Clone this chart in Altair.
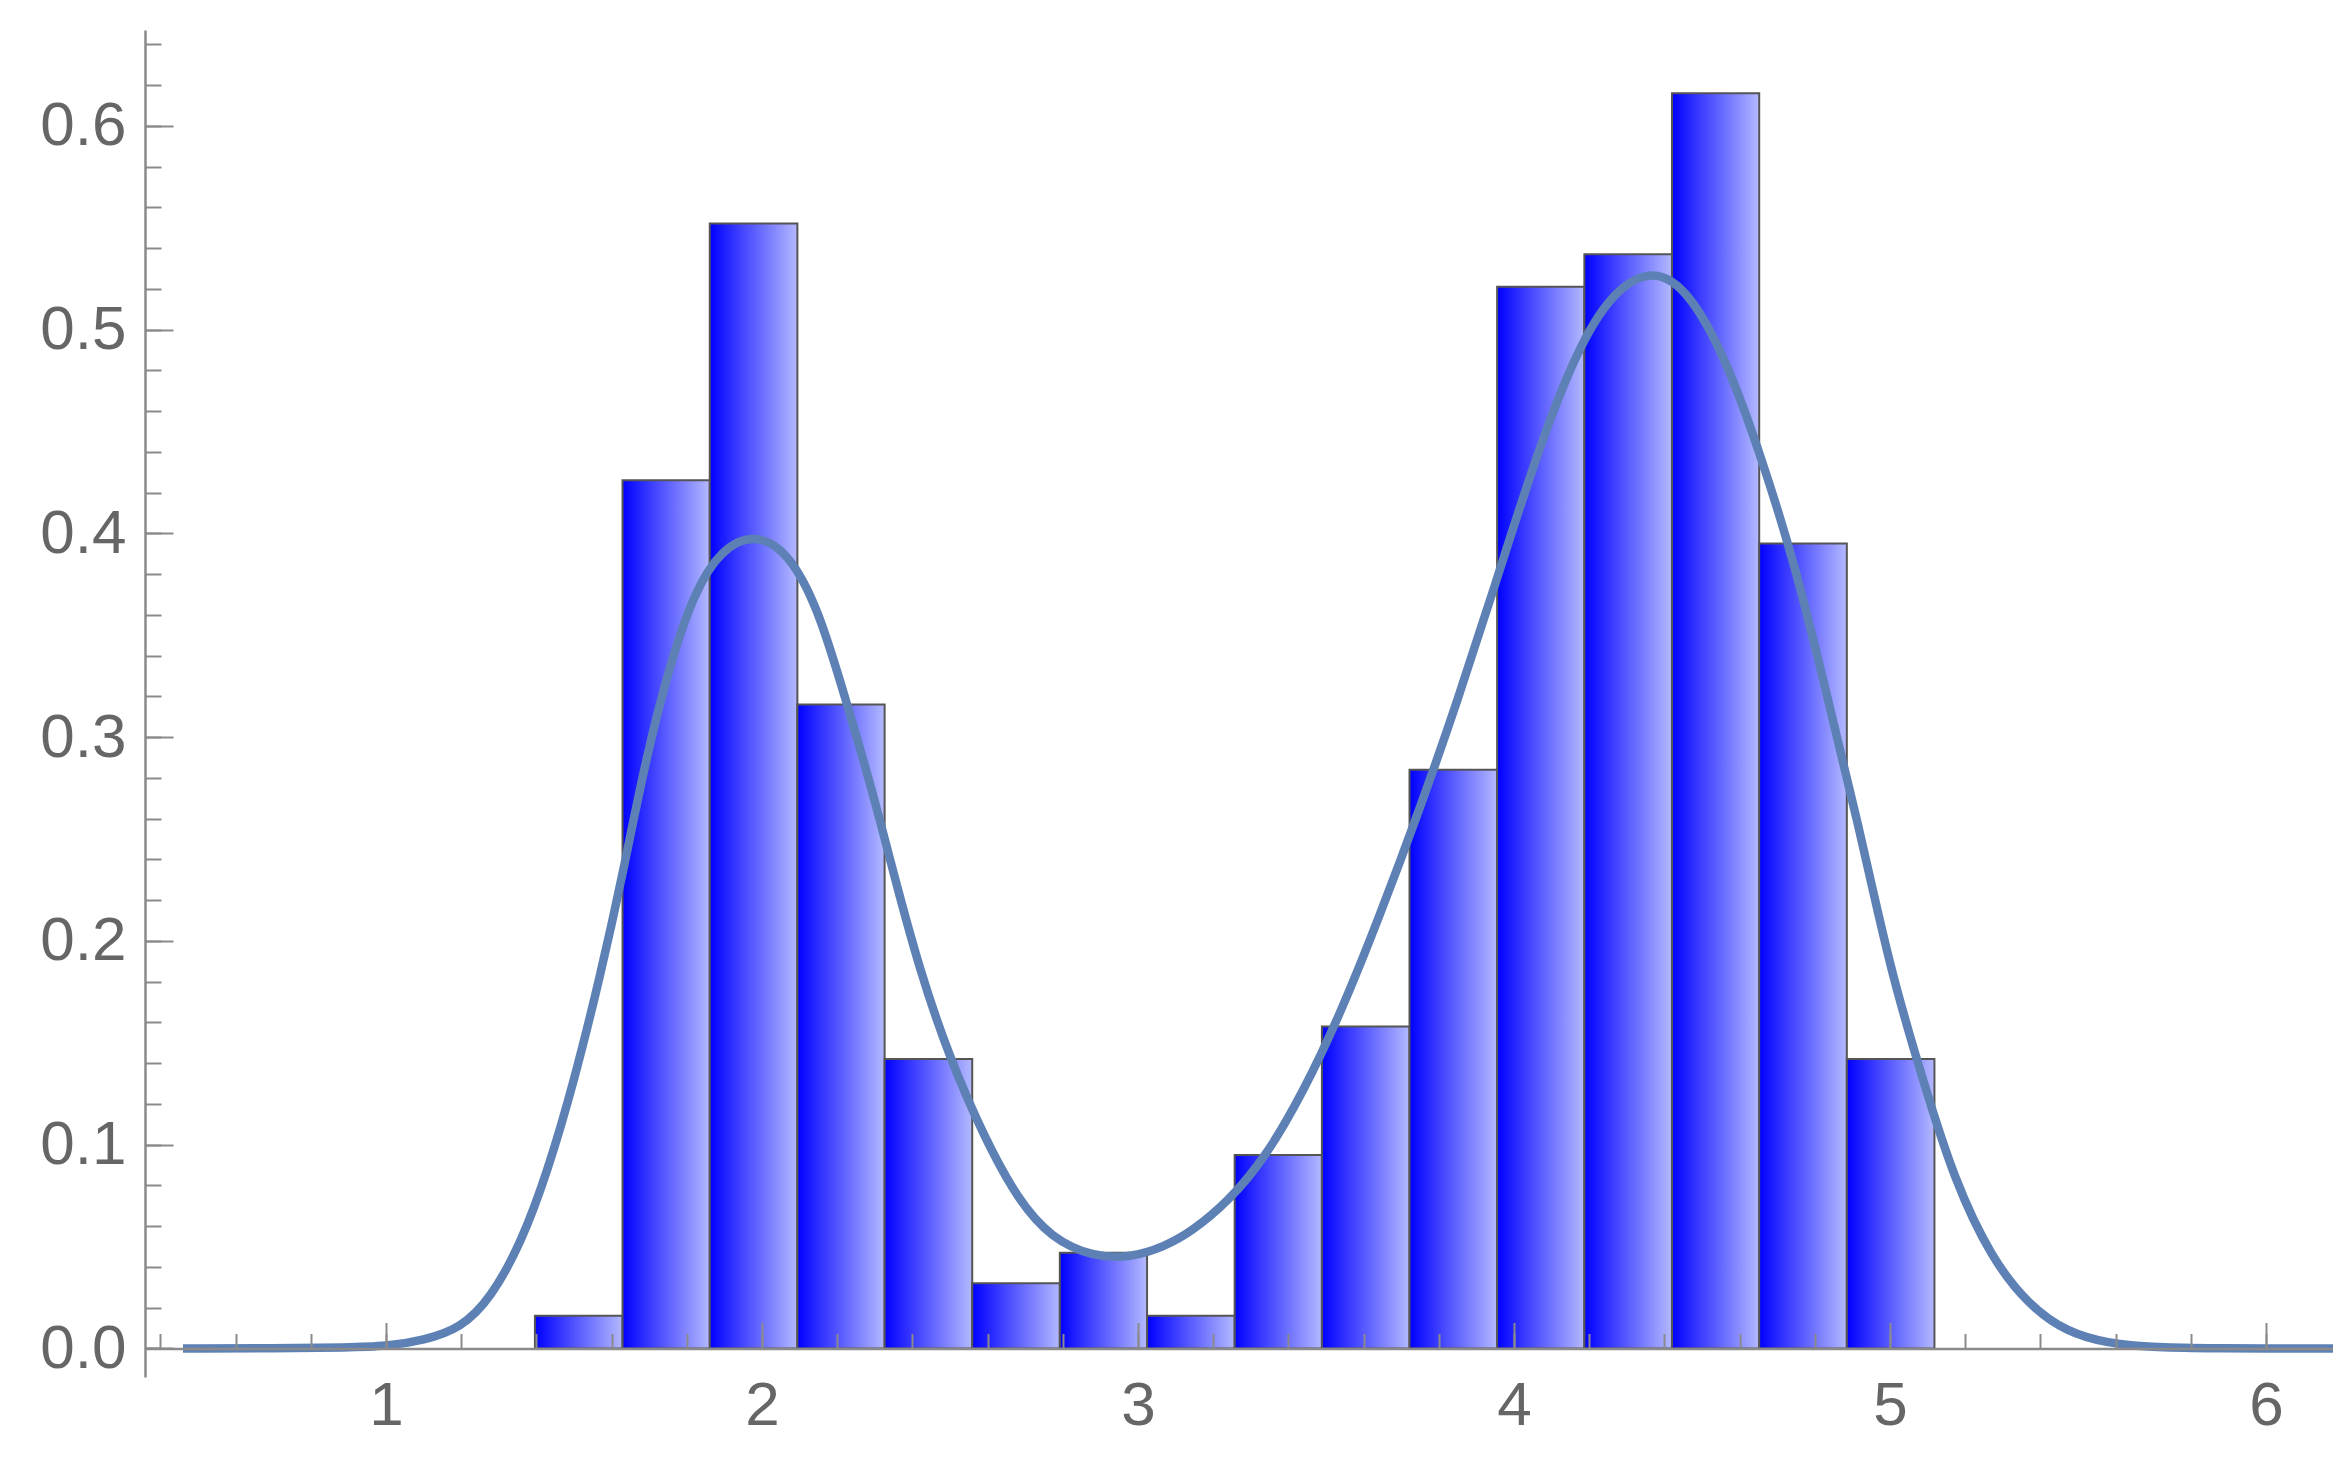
import altair as alt
import pandas as pd

# ---- data ----
bin_left = [1.396, 1.629, 1.861, 2.094, 2.326, 2.559, 2.792, 3.024,
            3.257, 3.489, 3.722, 3.955, 4.187, 4.420, 4.652, 4.885]
bin_right = [1.629, 1.861, 2.094, 2.326, 2.559, 2.792, 3.024, 3.257,
             3.489, 3.722, 3.955, 4.187, 4.420, 4.652, 4.885, 5.118]
density = [0.016, 0.426, 0.552, 0.316, 0.142, 0.032, 0.047, 0.016,
           0.095, 0.158, 0.284, 0.521, 0.537, 0.616, 0.395, 0.142]

curve_x = [0.46, 0.70, 0.90, 1.00, 1.10, 1.20, 1.28, 1.36, 1.43, 1.50,
           1.57, 1.63, 1.69, 1.76, 1.82, 1.89, 1.98, 2.07, 2.15, 2.22,
           2.29, 2.35, 2.42, 2.50, 2.59, 2.68, 2.77, 2.88, 2.98, 3.07,
           3.14, 3.24, 3.34, 3.44, 3.54, 3.64, 3.75, 3.85, 3.95, 4.05,
           4.15, 4.25, 4.37, 4.47, 4.57, 4.66, 4.75, 4.83, 4.92, 5.00,
           5.09, 5.17, 5.27, 5.37, 5.47, 5.58, 5.69, 5.85, 6.00, 6.178]
curve_y = [0.0, 0.0, 0.0005, 0.001, 0.004, 0.010, 0.025, 0.052, 0.087, 0.131,
           0.183, 0.233, 0.289, 0.339, 0.371, 0.392, 0.400, 0.391, 0.363, 0.320,
           0.276, 0.233, 0.185, 0.142, 0.104, 0.073, 0.054, 0.045, 0.0445, 0.050,
           0.057, 0.072, 0.094, 0.126, 0.165, 0.211, 0.265, 0.318, 0.375, 0.433,
           0.483, 0.517, 0.531, 0.518, 0.483, 0.436, 0.383, 0.322, 0.254, 0.186,
           0.130, 0.083, 0.044, 0.021, 0.008, 0.0025, 0.0006, 0.0001, 0.0, 0.0]

x_major = [1, 2, 3, 4, 5, 6]
x_minor = [round(0.4 + 0.2 * i, 1) for i in range(29)]
y_major = [0.0, 0.1, 0.2, 0.3, 0.4, 0.5, 0.6]
y_minor = [round(0.02 * i, 2) for i in range(33)]

x_domain = [0.359, 6.178]
y_domain = [-0.014, 0.647]

# ---- layout ----
W, H = 2188, 1347
x_axis_offset = -H * (0 - y_domain[0]) / (y_domain[1] - y_domain[0])

bins = pd.DataFrame({"x0": bin_left, "x1": bin_right, "h": density,
                     "base": [0.0] * len(density)})
curve = pd.DataFrame({"cx": curve_x, "cy": curve_y})

AX = "#8a8a8a"
LBL = "#666666"
FONT = "Liberation Sans"

xs = alt.Scale(domain=x_domain, nice=False, zero=False)
ys = alt.Scale(domain=y_domain, nice=False, zero=False)

labels_x = alt.Axis(values=x_major, orient="bottom", offset=x_axis_offset,
                    ticks=False, domain=True, domainColor=AX, domainWidth=2.5,
                    grid=False, title=None, format="d", labelFont=FONT,
                    labelFontSize=62, labelColor=LBL, labelPadding=27,
                    labelFlush=False, zindex=1)
labels_y = alt.Axis(values=y_major, orient="left", ticks=False, domain=True,
                    domainColor=AX, domainWidth=2.5, grid=False, title=None,
                    format=".1f", labelFont=FONT, labelFontSize=62,
                    labelColor=LBL, labelPadding=19, labelFlush=False, zindex=1)
major_x = alt.Axis(values=x_major, orient="bottom", offset=x_axis_offset,
                   ticks=True, tickSize={"expr": "-26"}, tickColor=AX,
                   tickWidth=2, labels=False, domain=False, grid=False,
                   title=None, zindex=1)
major_y = alt.Axis(values=y_major, orient="left", ticks=True,
                   tickSize={"expr": "-28"}, tickColor=AX, tickWidth=2,
                   labels=False, domain=False, grid=False, title=None, zindex=1)
minor_x = alt.Axis(values=x_minor, orient="bottom", offset=x_axis_offset,
                   ticks=True, tickSize={"expr": "-15"}, tickColor=AX,
                   tickWidth=2, labels=False, domain=False, grid=False,
                   title=None, zindex=1)
minor_y = alt.Axis(values=y_minor, orient="left", ticks=True,
                   tickSize={"expr": "-16"}, tickColor=AX, tickWidth=2,
                   labels=False, domain=False, grid=False, title=None, zindex=1)

gradient = alt.LinearGradient(
    gradient="linear",
    stops=[alt.GradientStop(offset=0, color="#0000ff"),
           alt.GradientStop(offset=1, color="#b4b9ff")],
    x1=0, x2=1, y1=0, y2=0)

ghost = alt.Chart(curve).mark_point(opacity=0, size=1).encode(
    x=alt.X("cx:Q", scale=xs, axis=minor_x),
    y=alt.Y("cy:Q", scale=ys, axis=minor_y),
)

bars = alt.Chart(bins).mark_bar(fill=gradient, stroke="#555555",
                                strokeWidth=2).encode(
    x=alt.X("x0:Q", scale=xs, axis=labels_x),
    x2="x1:Q",
    y=alt.Y("h:Q", scale=ys, axis=labels_y, stack=None),
    y2="base:Q",
)

line = alt.Chart(curve).mark_line(color="#5e81b5", strokeWidth=8.5,
                                  interpolate="basis").encode(
    x=alt.X("cx:Q", scale=xs, axis=major_x),
    y=alt.Y("cy:Q", scale=ys, axis=major_y),
)

chart = alt.layer(ghost, bars, line).resolve_axis(
    x="independent", y="independent"
).properties(
    width=W, height=H,
    padding={"left": 137, "top": 22, "right": 0, "bottom": 76},
    autosize=alt.AutoSizeParams(type="none"),
    background="white",
).configure_view(stroke=None)

chart.save("out.html", embed_options={"renderer": "svg", "actions": False})
